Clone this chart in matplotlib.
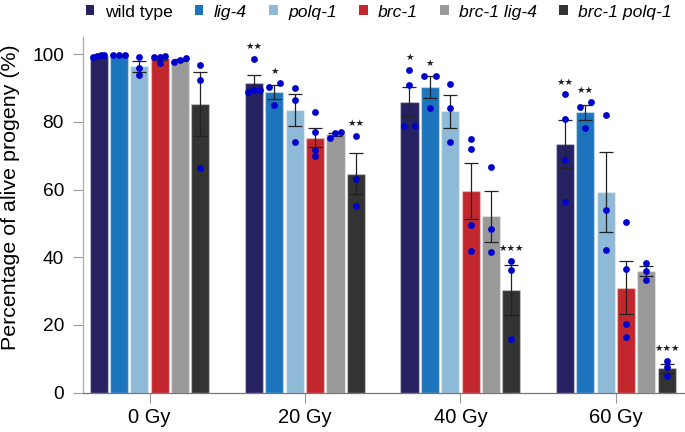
import numpy as np
import matplotlib
matplotlib.use("Agg")
import matplotlib.pyplot as plt
from matplotlib.patches import Patch

plt.rcParams['font.family'] = ['Liberation Sans', 'DejaVu Sans']

doses = ["0 Gy", "20 Gy", "40 Gy", "60 Gy"]
genotypes = ["wild type", "lig-4", "polq-1", "brc-1", "brc-1 lig-4", "brc-1 polq-1"]
colors = ["#262262", "#1c75bc", "#8ebad7", "#c1272d", "#999999", "#333333"]

# replicate values (% alive progeny), per dose
wild_type = [[99.3, 99.7, 99.4, 99.8], [98.6, 88.9, 89.4, 89.4],
             [95.5, 90.9, 78.7, 78.7], [88.2, 80.9, 68.8, 56.2]]
lig_4 = [[99.7, 99.8, 99.7], [90.3, 91.4, 85.0],
         [93.5, 93.7, 84.0], [84.4, 85.8, 78.3]]
polq_1 = [[99.3, 96.0, 93.9], [90.1, 86.4, 74.1],
          [91.1, 84.2, 74.0], [82.1, 53.9, 42.2]]
brc_1 = [[99.2, 99.5, 99.3, 97.3], [82.8, 76.9, 71.8, 69.9],
         [75.0, 71.9, 49.5, 41.9], [50.5, 36.4, 20.3, 16.5]]
brc_1_lig_4 = [[97.8, 99.0, 98.4], [76.6, 75.2, 77.1],
               [66.6, 48.2, 41.5], [38.4, 35.9, 33.2]]
brc_1_polq_1 = [[96.7, 92.5, 66.5], [75.9, 63.1, 55.1],
                [38.9, 36.2, 15.7], [9.3, 7.5, 4.8]]

sig_wild_type = ["", "**", "*", "**"]
sig_lig_4 = ["", "*", "*", "**"]
sig_polq_1 = ["", "", "", ""]
sig_brc_1 = ["", "", "", ""]
sig_brc_1_lig_4 = ["", "", "", ""]
sig_brc_1_polq_1 = ["", "**", "***", "***"]

series = [wild_type, lig_4, polq_1, brc_1, brc_1_lig_4, brc_1_polq_1]
sigs = [sig_wild_type, sig_lig_4, sig_polq_1, sig_brc_1, sig_brc_1_lig_4, sig_brc_1_polq_1]

fig = plt.figure(figsize=(6.85, 4.32), dpi=100)
ax = fig.add_axes([0.1207, 0.0914, 0.8793, 0.8236])

pitch = 0.131
width = 0.116
n = len(genotypes)
x = np.arange(len(doses))


def swarm_offsets(vals, thr=1.6, half=0.037):
    vals = np.asarray(vals, float)
    order = np.argsort(vals)
    offs = np.zeros(len(vals))
    clusters = [[order[0]]]
    for i in order[1:]:
        if vals[i] - vals[clusters[-1][-1]] < thr:
            clusters[-1].append(i)
        else:
            clusters.append([i])
    for c in clusters:
        if len(c) > 1:
            offs[c] = np.linspace(-half, half, len(c))
    return offs


for gi, (name, data, col, sg) in enumerate(zip(genotypes, series, colors, sigs)):
    xpos = x + (gi - (n - 1) / 2) * pitch
    means = np.array([np.mean(v) for v in data])
    sems = np.array([np.std(v, ddof=1) / np.sqrt(len(v)) for v in data])
    ax.bar(xpos, means, width=width, color=col, edgecolor=(1, 1, 1, 0.35),
           linewidth=1.0, zorder=2)
    ax.errorbar(xpos, means, yerr=sems, fmt='none', ecolor='#222222',
                elinewidth=0.9, capsize=4.8, capthick=0.9, zorder=3)
    for xi, vals, m, s, st in zip(xpos, data, means, sems, sg):
        offs = swarm_offsets(vals)
        ax.scatter(xi + offs, vals, s=24, color='#0000cc', zorder=4,
                   linewidths=0)
        if st:
            ytop = max(max(vals), m + s) + 3.6
            ax.text(xi, ytop, "\u2605" * len(st), ha='center', va='center',
                    fontsize=6.8, family='DejaVu Sans', color='#222222',
                    zorder=5)

ax.set_xlim(-0.43, 3.445)
ax.set_ylim(0, 105.2)
ax.set_xticks(x)
ax.set_xticklabels(doses, fontsize=14.5)
ax.set_yticks(np.arange(0, 101, 20))
ax.tick_params(axis='y', labelsize=13.8, length=7, width=0.8, color='#999999', pad=6.5)
ax.tick_params(axis='x', labelsize=14.5, length=7, width=0.8, color='#999999', pad=4.5)
ax.set_ylabel("Percentage of alive progeny (%)", fontsize=15.4)
ax.yaxis.set_label_coords(-0.104, 0.548)
for s in ['top', 'right']:
    ax.spines[s].set_visible(False)
ax.spines['left'].set_color('#aaaaaa')
ax.spines['left'].set_linewidth(0.9)
ax.spines['bottom'].set_color('#777777')
ax.spines['bottom'].set_linewidth(0.9)

handles = [Patch(facecolor=c, edgecolor='none') for c in colors]
leg = fig.legend(handles, genotypes, loc='center', bbox_to_anchor=(0.553, 0.972),
                 ncol=6, frameon=False, fontsize=12.6, handlelength=0.5,
                 handleheight=0.5, handletextpad=0.6, columnspacing=1.25,
                 borderaxespad=0, borderpad=0)
for i, t in enumerate(leg.get_texts()):
    if i > 0:
        t.set_fontstyle('italic')

fig.savefig("out.png", dpi=100)
